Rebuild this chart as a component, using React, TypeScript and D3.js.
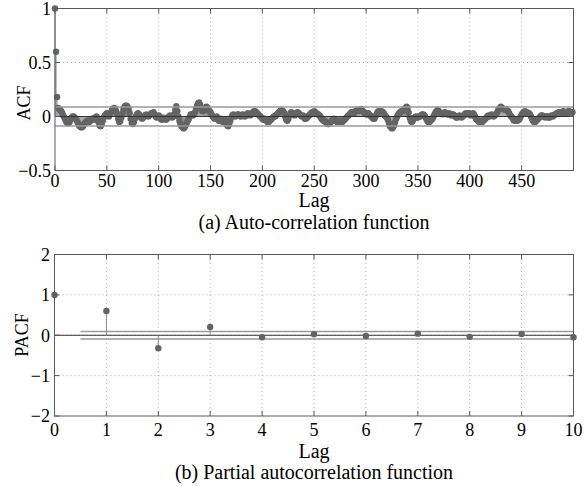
import React from "react";
import * as d3 from "d3";

// ---------- Data ----------
const acfValues: number[] = [
  1, 0.6, 0.18, 0.08, 0.07, 0.06, 0.05, 0.03, 0.01, -0.01,
  -0.03, -0.05, -0.06, -0.06, -0.05, -0.03, -0.01, 0.0, 0.0, -0.01,
  -0.02, -0.04, -0.06, -0.08, -0.09, -0.1, -0.1, -0.09, -0.07, -0.06,
  -0.05, -0.04, -0.04, -0.05, -0.04, -0.03, -0.02, -0.02, -0.03, -0.01,
  0.0, -0.02, -0.05, -0.08, -0.09, -0.07, -0.04, -0.01, 0.01, 0.02,
  0.03, 0.02, 0.0, 0.02, 0.04, 0.06, 0.07, 0.08, 0.07, 0.05,
  0.02, -0.02, -0.05, -0.04, -0.01, 0.03, 0.07, 0.09, 0.1, 0.1,
  0.09, 0.07, 0.03, -0.02, -0.06, -0.07, -0.05, -0.02, 0.0, 0.02,
  0.03, 0.02, 0.0, -0.01, -0.02, -0.01, 0.0, 0.01, 0.02, 0.01,
  0.0, 0.01, 0.02, 0.03, 0.03, 0.04, 0.02, 0.0, -0.01, 0.0,
  0.01, 0.0, -0.02, -0.03, -0.02, -0.01, -0.02, -0.03, -0.02, -0.01,
  0.0, 0.01, 0.0, -0.01, 0.0, 0.02, 0.06, 0.095, 0.05, 0.0,
  -0.04, -0.07, -0.09, -0.1, -0.11, -0.1, -0.08, -0.06, -0.04, -0.02,
  0.0, 0.02, 0.02, 0.01, 0.02, 0.04, 0.07, 0.1, 0.12, 0.13,
  0.11, 0.07, 0.05, 0.05, 0.06, 0.08, 0.09, 0.08, 0.06, 0.05,
  0.04, 0.02, 0.0, -0.01, -0.02, -0.01, 0.0, -0.02, -0.04, -0.03,
  -0.02, -0.04, -0.05, -0.04, -0.03, -0.05, -0.08, -0.09, -0.07, -0.04,
  -0.01, 0.01, 0.02, 0.01, 0.0, 0.01, 0.02, 0.02, 0.01, 0.0,
  0.01, 0.02, 0.01, 0.0, 0.01, 0.02, 0.03, 0.02, 0.01, 0.02,
  0.03, 0.04, 0.05, 0.05, 0.04, 0.03, 0.02, 0.01, 0.0, -0.01,
  -0.02, -0.03, -0.02, -0.03, -0.04, -0.05, -0.05, -0.04, -0.03, -0.02,
  -0.01, 0.0, 0.0, 0.01, 0.02, 0.03, 0.04, 0.05, 0.06, 0.05,
  0.05, 0.03, 0.0, -0.03, -0.04, -0.02, 0.01, 0.03, 0.04, 0.03,
  0.02, 0.01, 0.02, 0.03, 0.04, 0.03, 0.02, 0.01, 0.0, 0.01,
  0.0, -0.02, -0.02, -0.01, 0.0, 0.01, 0.02, 0.03, 0.04, 0.04,
  0.05, 0.04, 0.03, 0.02, 0.02, 0.01, 0.0, -0.02, -0.03, -0.04,
  -0.04, -0.05, -0.06, -0.07, -0.07, -0.06, -0.05, -0.04, -0.03, -0.02,
  -0.03, -0.04, -0.05, -0.05, -0.04, -0.04, -0.05, -0.05, -0.04, -0.03,
  -0.02, -0.01, 0.0, 0.01, 0.02, 0.03, 0.04, 0.04, 0.03, 0.04,
  0.05, 0.06, 0.06, 0.05, 0.06, 0.07, 0.06, 0.05, 0.04, 0.03,
  0.02, 0.02, 0.03, 0.02, 0.01, 0.0, -0.01, -0.02, -0.02, 0.0,
  0.02, 0.04, 0.05, 0.05, 0.04, 0.05, 0.04, 0.03, 0.01, 0.0,
  -0.01, -0.03, -0.06, -0.09, -0.1, -0.11, -0.1, -0.08, -0.05, -0.02,
  0.0, 0.02, 0.03, 0.04, 0.05, 0.05, 0.06, 0.07, 0.08, 0.09,
  0.08, 0.04, -0.01, -0.04, -0.05, -0.04, -0.02, -0.01, 0.0, -0.01,
  -0.01, 0.0, 0.0, 0.01, 0.02, 0.02, 0.01, 0.0, -0.02, -0.04,
  -0.05, -0.05, -0.04, -0.03, -0.02, 0.0, 0.02, 0.04, 0.05, 0.06,
  0.05, 0.04, 0.03, 0.03, 0.02, 0.03, 0.04, 0.03, 0.02, 0.02,
  0.03, 0.02, 0.01, 0.02, 0.02, 0.01, 0.0, -0.01, -0.01, 0.0,
  0.01, 0.0, -0.01, 0.0, 0.01, 0.02, 0.03, 0.02, 0.03, 0.03,
  0.02, 0.01, 0.02, 0.03, 0.02, 0.0, -0.02, -0.03, -0.04, -0.05,
  -0.05, -0.04, -0.05, -0.04, -0.03, -0.02, -0.01, 0.0, 0.01, 0.0,
  0.01, 0.02, 0.01, 0.0, 0.01, 0.02, 0.03, 0.05, 0.07, 0.08,
  0.09, 0.08, 0.07, 0.07, 0.06, 0.07, 0.06, 0.05, 0.03, 0.01,
  0.0, -0.01, -0.03, -0.04, -0.04, -0.03, -0.04, -0.03, -0.02, 0.0,
  0.02, 0.03, 0.04, 0.05, 0.04, 0.04, 0.03, 0.03, 0.02, 0.0,
  -0.02, -0.04, -0.05, -0.05, -0.04, -0.03, -0.02, -0.01, 0.0, 0.01,
  0.01, 0.0, 0.0, -0.01, 0.0, 0.0, -0.01, -0.01, 0.0, 0.01,
  0.0, 0.01, 0.02, 0.02, 0.03, 0.03, 0.04, 0.04, 0.03, 0.04,
  0.05, 0.04, 0.03, 0.03, 0.04, 0.05, 0.05, 0.04, 0.03, 0.04,
];
const acfBound = 0.087;
const acfXTicks = [0, 50, 100, 150, 200, 250, 300, 350, 400, 450];
const acfYTicks = [-0.5, 0, 0.5, 1];

const pacfLags = [0, 1, 2, 3, 4, 5, 6, 7, 8, 9, 10];
const pacfValues = [1, 0.6, -0.32, 0.205, -0.05, 0.025, -0.02, 0.04, -0.04, 0.03, -0.05];
const pacfBound = 0.09;
const pacfXTicks = [0, 1, 2, 3, 4, 5, 6, 7, 8, 9, 10];
const pacfYTicks = [-2, -1, 0, 1, 2];

const FONT = "'Liberation Serif', 'Times New Roman', serif";
const FS = 18;
const FL = 20;
const BOX = "#5a5a5a";
const GRID = "#b0b0b0";
const MARK = "#646464";
const STEM = "#8a8a8a";
const BOUND = "#9a9a9a";

function fmt(v: number) {
  return String(v).replace("-", "\u2212");
}

export default function App() {
  // ---- ACF panel ----
  const ax = d3.scaleLinear().domain([0, 500]).range([55, 573.5]);
  const ay = d3.scaleLinear().domain([-0.5, 1]).range([170.5, 8.5]);
  // ---- PACF panel ----
  const px = d3.scaleLinear().domain([0, 10]).range([54.5, 573.5]);
  const py = d3.scaleLinear().domain([-2, 2]).range([416, 254.5]);

  const tick = 5;

  const frame = (
    x: d3.ScaleLinear<number, number>,
    y: d3.ScaleLinear<number, number>,
    xt: number[],
    yt: number[],
    key: string
  ) => {
    const [x0, x1] = x.range();
    const [y0, y1] = y.range();
    return (
      <g key={key}>
        {xt
          .filter((t) => x(t) > x0 + 1 && x(t) < x1 - 1)
          .map((t) => (
            <line key={"gx" + t} x1={x(t)} x2={x(t)} y1={y0} y2={y1} stroke={GRID} strokeWidth={1} strokeDasharray="1,3" />
          ))}
        {yt
          .filter((t) => y(t) < y0 - 1 && y(t) > y1 + 1)
          .map((t) => (
            <line key={"gy" + t} x1={x0} x2={x1} y1={y(t)} y2={y(t)} stroke={GRID} strokeWidth={1} strokeDasharray="1,3" />
          ))}
      </g>
    );
  };

  const box = (
    x: d3.ScaleLinear<number, number>,
    y: d3.ScaleLinear<number, number>,
    xt: number[],
    yt: number[],
    key: string
  ) => {
    const [x0, x1] = x.range();
    const [y0, y1] = y.range();
    return (
      <g key={key}>
        <rect x={x0} y={y1} width={x1 - x0} height={y0 - y1} fill="none" stroke={BOX} strokeWidth={1} />
        {xt.map((t) => (
          <g key={"tx" + t}>
            <line x1={x(t)} x2={x(t)} y1={y0} y2={y0 - tick} stroke={BOX} />
            <line x1={x(t)} x2={x(t)} y1={y1} y2={y1 + tick} stroke={BOX} />
          </g>
        ))}
        {yt.map((t) => (
          <g key={"ty" + t}>
            <line x1={x0} x2={x0 + tick} y1={y(t)} y2={y(t)} stroke={BOX} />
            <line x1={x1} x2={x1 - tick} y1={y(t)} y2={y(t)} stroke={BOX} />
          </g>
        ))}
      </g>
    );
  };

  return (
    <svg
      width={588}
      height={486}
      style={{ position: "absolute", left: 0, top: 0, background: "#fff" }}
      fontFamily={FONT}
    >
      <rect x={0} y={0} width={588} height={486} fill="#fff" />
      {/* ===== ACF ===== */}
      {frame(ax, ay, acfXTicks, acfYTicks, "af")}
      <g>
        {acfValues.map((v, i) => (
          <line key={"s" + i} x1={ax(i)} x2={ax(i)} y1={ay(0)} y2={ay(v)} stroke={STEM} strokeWidth={1} />
        ))}
        {acfValues.map((v, i) => (
          <circle key={"c" + i} cx={ax(i)} cy={ay(v)} r={3.2} fill={MARK} />
        ))}
      </g>
      <line x1={ax(0)} x2={ax.range()[1]} y1={ay(acfBound)} y2={ay(acfBound)} stroke={BOUND} strokeWidth={1.5} />
      <line x1={ax(0)} x2={ax.range()[1]} y1={ay(-acfBound)} y2={ay(-acfBound)} stroke={BOUND} strokeWidth={1.5} />
      <line x1={ax(0)} x2={ax.range()[1]} y1={ay(0)} y2={ay(0)} stroke="#333" strokeWidth={1} />
      {box(ax, ay, acfXTicks, acfYTicks, "ab")}
      {acfYTicks.map((t) => (
        <text key={"ayl" + t} x={51} y={ay(t)} dy="0.35em" textAnchor="end" fontSize={FS} fill="#000">
          {fmt(t)}
        </text>
      ))}
      {acfXTicks.map((t) => (
        <text key={"axl" + t} x={ax(t)} y={186.5} textAnchor="middle" fontSize={FS} fill="#000">
          {fmt(t)}
        </text>
      ))}
      <text x={314} y={207} textAnchor="middle" fontSize={FL} fill="#000">Lag</text>
      <text x={314} y={228.5} textAnchor="middle" fontSize={FL} fill="#000">(a) Auto-correlation function</text>
      <text transform="translate(30,103) rotate(-90)" textAnchor="middle" fontSize={FS} fill="#000">ACF</text>

      {/* ===== PACF ===== */}
      {frame(px, py, pacfXTicks, pacfYTicks, "pf")}
      <line x1={px(0.5)} x2={px(10)} y1={py(pacfBound)} y2={py(pacfBound)} stroke={BOUND} strokeWidth={1.5} />
      <line x1={px(0.5)} x2={px(10)} y1={py(-pacfBound)} y2={py(-pacfBound)} stroke={BOUND} strokeWidth={1.5} />
      <line x1={px(0)} x2={px(10)} y1={py(0)} y2={py(0)} stroke="#333" strokeWidth={1} />
      {pacfValues.map((v, i) => (
        <line key={"ps" + i} x1={px(pacfLags[i])} x2={px(pacfLags[i])} y1={py(0)} y2={py(v)} stroke={STEM} strokeWidth={1} />
      ))}
      {pacfValues.map((v, i) => (
        <circle key={"pc" + i} cx={px(pacfLags[i])} cy={py(v)} r={3.2} fill={MARK} />
      ))}
      {box(px, py, pacfXTicks, pacfYTicks, "pb")}
      {pacfYTicks.map((t) => (
        <text key={"pyl" + t} x={50} y={py(t)} dy="0.35em" textAnchor="end" fontSize={FS} fill="#000">
          {fmt(t)}
        </text>
      ))}
      {pacfXTicks.map((t) => (
        <text key={"pxl" + t} x={px(t)} y={435.5} textAnchor="middle" fontSize={FS} fill="#000">
          {fmt(t)}
        </text>
      ))}
      <text x={314} y={457.5} textAnchor="middle" fontSize={FL} fill="#000">Lag</text>
      <text x={314} y={479} textAnchor="middle" fontSize={FL} fill="#000">(b) Partial autocorrelation function</text>
      <text transform="translate(28,335) rotate(-90)" textAnchor="middle" fontSize={FS} fill="#000">PACF</text>
    </svg>
  );
}
